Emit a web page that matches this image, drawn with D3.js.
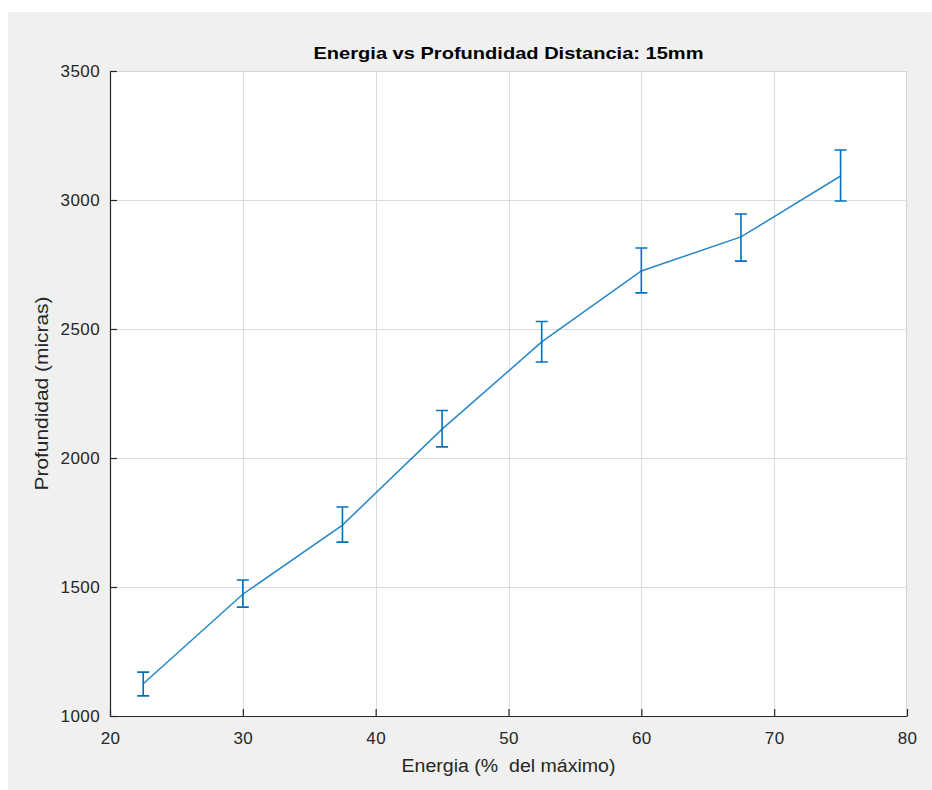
<!DOCTYPE html>
<html>
<head>
<meta charset="utf-8">
<script src="https://cdn.jsdelivr.net/npm/d3@7"></script>
<style>
  html, body { margin: 0; padding: 0; background: #ffffff; }
  svg { display: block; }
  text { font-family: "Liberation Sans", Arial, Helvetica, sans-serif; }
</style>
</head>
<body>
<svg id="chart" width="932" height="790"></svg>
<script>
// Energy (% of maximum) vs measured depth (microns), with error bars
const energia = [22.5, 30, 37.5, 45, 52.5, 60, 67.5, 75];
const profundidad = [1125, 1472, 1740, 2112, 2450, 2725, 2857, 3093];
const errorSup = [1170, 1527, 1810, 2184, 2529, 2814, 2946, 3194];
const errorInf = [1078, 1422, 1674, 2043, 2372, 2640, 2763, 2996];

const xTicks = [20, 30, 40, 50, 60, 70, 80];
const yTicks = [1000, 1500, 2000, 2500, 3000, 3500];

const titulo = "Energia vs Profundidad Distancia: 15mm";
const etiquetaX = "Energia (%\u00a0 del máximo)";
const etiquetaY = "Profundidad (micras)";

const svg = d3.select("#chart");
const W = 932, H = 790;
const plot = { left: 110, right: 907, top: 71, bottom: 716 };

// figure background
svg.append("rect").attr("x", 8).attr("y", 12).attr("width", W - 8).attr("height", H - 12)
  .attr("fill", "#f0f0f0");

const x = d3.scaleLinear().domain([20, 80]).range([plot.left, plot.right]);
const y = d3.scaleLinear().domain([1000, 3500]).range([plot.bottom, plot.top]);

// axes area
svg.append("rect")
  .attr("x", plot.left).attr("y", plot.top)
  .attr("width", plot.right - plot.left).attr("height", plot.bottom - plot.top)
  .attr("fill", "#ffffff");

// grid
const grid = svg.append("g").attr("stroke", "#dcdcdc").attr("stroke-width", 1);
grid.selectAll("line.gx").data(xTicks.slice(1, -1)).join("line")
  .attr("x1", d => Math.round(x(d)) + 0.5).attr("x2", d => Math.round(x(d)) + 0.5)
  .attr("y1", plot.top).attr("y2", plot.bottom);
grid.selectAll("line.gy").data(yTicks.slice(1, -1)).join("line")
  .attr("y1", d => Math.round(y(d)) + 0.5).attr("y2", d => Math.round(y(d)) + 0.5)
  .attr("x1", plot.left).attr("x2", plot.right);

// top and right box edges (light)
svg.append("path")
  .attr("d", `M${plot.left},${plot.top + 0.5}H${plot.right - 0.5}V${plot.bottom}`)
  .attr("fill", "none").attr("stroke", "#d6d6d6").attr("stroke-width", 1.2);

// axes with inward ticks
const axisColor = "#262626";
const fmt = d3.format("d");
const xAxis = svg.append("g").attr("transform", `translate(0,${plot.bottom})`)
  .call(d3.axisBottom(x).tickValues(xTicks).tickFormat(fmt).tickSize(-7).tickSizeOuter(0).tickPadding(16));
const yAxis = svg.append("g").attr("transform", `translate(${plot.left},0)`)
  .call(d3.axisLeft(y).tickValues(yTicks).tickFormat(fmt).tickSize(-7).tickSizeOuter(0).tickPadding(10));

[xAxis, yAxis].forEach(g => {
  g.select(".domain").attr("stroke", axisColor).attr("stroke-width", 1.2);
  g.selectAll(".tick line").attr("stroke", axisColor).attr("stroke-width", 1.2);
  g.selectAll(".tick text").attr("fill", "#262626")
    .style("font-size", "17px")
    .style("letter-spacing", "0.4px")
    .style("font-family", "'Liberation Sans', Arial, Helvetica, sans-serif");
});

// data line
const line = d3.line().x((d, i) => x(energia[i])).y(d => y(d));
svg.append("path").datum(profundidad)
  .attr("d", line)
  .attr("fill", "none").attr("stroke", "#0072BD").attr("stroke-width", 1.5)
  .attr("stroke-opacity", 0.85);

// error bars
const capHalf = 6;
const eb = svg.append("g").attr("stroke", "#0072BD").attr("stroke-width", 1.6).attr("fill", "none");
eb.selectAll("path").data(energia).join("path")
  .attr("d", (d, i) => {
    const cx = x(d), yt = y(errorSup[i]), yb = y(errorInf[i]);
    return `M${cx},${yt}V${yb}M${cx - capHalf},${yt}H${cx + capHalf}M${cx - capHalf},${yb}H${cx + capHalf}`;
  });

// title and axis labels
svg.append("text")
  .attr("x", (plot.left + plot.right) / 2).attr("y", 59)
  .attr("text-anchor", "middle")
  .attr("font-weight", "bold").attr("font-size", 17).attr("fill", "#000")
  .attr("textLength", 390).attr("lengthAdjust", "spacingAndGlyphs")
  .text(titulo);

svg.append("text")
  .attr("x", (plot.left + plot.right) / 2).attr("y", 772)
  .attr("text-anchor", "middle").attr("font-size", 18).attr("fill", "#262626")
  .attr("textLength", 214).attr("lengthAdjust", "spacingAndGlyphs")
  .text(etiquetaX);

svg.append("text")
  .attr("transform", `translate(48,${(plot.top + plot.bottom) / 2}) rotate(-90)`)
  .attr("text-anchor", "middle").attr("font-size", 18).attr("fill", "#262626")
  .attr("textLength", 194).attr("lengthAdjust", "spacingAndGlyphs")
  .text(etiquetaY);
</script>
</body>
</html>
